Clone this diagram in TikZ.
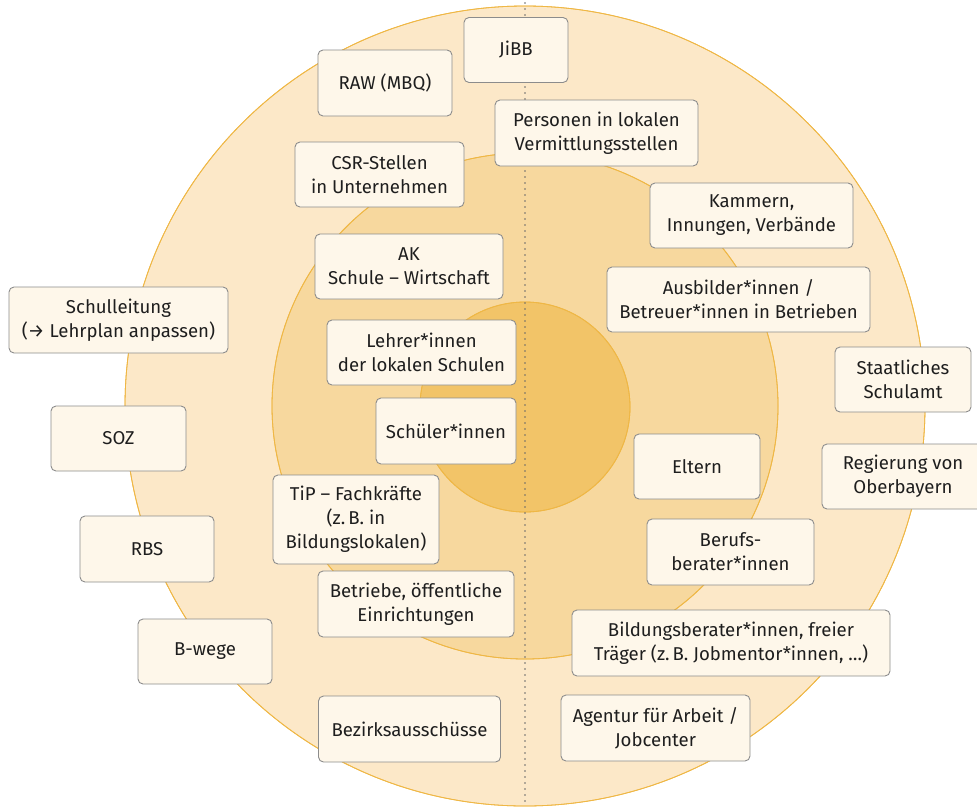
\documentclass[tikz,border=0pt]{standalone}
\usepackage{fontspec}
\setmainfont{Fira Sans}
\definecolor{ringA}{HTML}{FCE8C8}
\definecolor{ringB}{HTML}{F7D89E}
\definecolor{ringC}{HTML}{F2C468}
\definecolor{ringLine}{HTML}{EFB745}
\definecolor{boxFill}{HTML}{FEF7EA}
\definecolor{boxLine}{HTML}{8C8C8C}
\definecolor{dotLine}{HTML}{6A6A6A}
\definecolor{txt}{HTML}{1E1E1E}
\begin{document}
\begin{tikzpicture}[x=1pt,y=-1pt,
  ring/.style={fill=#1,draw=ringLine,line width=0.8pt},
  box/.style={draw=boxLine,fill=boxFill,line width=0.9pt,rounded corners=5pt,text=txt,
    align=center,inner sep=0pt,font=\fontsize{18.6}{24}\selectfont},
  divider/.style={draw=dotLine,line width=1.8pt,line cap=round,dash pattern=on 0pt off 6pt}]
\useasboundingbox (0,0) rectangle (977,807);
\fill[ring=ringA] (525,406) circle[radius=400];
\fill[ring=ringB] (525,406) circle[radius=253];
\fill[ring=ringC] (525,407) circle[radius=105];
\draw[ringLine,line width=0.8pt] (525,406) circle[radius=400];
\draw[ringLine,line width=0.8pt] (525,406) circle[radius=253];
\draw[ringLine,line width=0.8pt] (525,407) circle[radius=105];
\coordinate (top) at (525,3);
\coordinate (bot) at (525,806);
\draw[divider] (top) -- (bot);
\node[box,minimum width=104pt,minimum height=65pt] (jibb) at (516,50) {JiBB};
\node[box,minimum width=134pt,minimum height=66pt] (raw) at (385,83) {RAW (MBQ)};
\node[box,minimum width=203pt,minimum height=66pt] (pers) at (596.5,133) {Personen in lokalen\\Vermittlungsstellen};
\node[box,minimum width=169pt,minimum height=65pt] (csr) at (379.5,174.5) {CSR-Stellen\\in Unternehmen};
\node[box,minimum width=203pt,minimum height=65pt] (kam) at (751.5,215.5) {Kammern,\\Innungen, Verbände};
\node[box,minimum width=188pt,minimum height=65pt] (ak) at (409,266.5) {AK\\Schule – Wirtschaft};
\node[box,minimum width=219pt,minimum height=66pt] (sl) at (118.5,320) {Schulleitung\\(→ Lehrplan anpassen)};
\node[box,minimum width=263pt,minimum height=65pt] (ausb) at (738.5,299.5) {Ausbilder*innen /\\Betreuer*innen in Betrieben};
\node[box,minimum width=189pt,minimum height=65pt] (lehr) at (421.5,352.5) {Lehrer*innen\\der lokalen Schulen};
\node[box,minimum width=136pt,minimum height=65pt] (ssa) at (903,379.5) {Staatliches\\Schulamt};
\node[box,minimum width=135pt,minimum height=65pt] (soz) at (118.5,438.5) {SOZ};
\node[box,minimum width=140pt,minimum height=66pt] (sch) at (446,431) {Schüler*innen};
\node[box,minimum width=126pt,minimum height=65pt] (elt) at (697,466.5) {Eltern};
\node[box,minimum width=162pt,minimum height=65pt] (reg) at (903,476.5) {Regierung von\\Oberbayern};
\node[box,minimum width=166pt,minimum height=89pt] (tip) at (356,519.5) {TiP – Fachkräfte\\(z.\,B. in\\Bildungslokalen)};
\node[box,minimum width=134pt,minimum height=66pt] (rbs) at (147,549) {RBS};
\node[box,minimum width=167pt,minimum height=66pt] (beruf) at (730.5,552) {Berufs-\\berater*innen};
\node[box,minimum width=196pt,minimum height=66pt] (betr) at (416,604) {Betriebe, öffentliche\\Einrichtungen};
\node[box,minimum width=318pt,minimum height=66pt] (bild) at (731,643) {Bildungsberater*innen, freier\\Träger (z.\,B. Jobmentor*innen, …)};
\node[box,minimum width=134pt,minimum height=65pt] (bweg) at (205,651.5) {B-wege};
\node[box,minimum width=182pt,minimum height=66pt] (bez) at (409.5,729) {Bezirksausschüsse};
\node[box,minimum width=189pt,minimum height=66pt] (agen) at (655.5,728) {Agentur für Arbeit /\\Jobcenter};
\end{tikzpicture}
\end{document}
